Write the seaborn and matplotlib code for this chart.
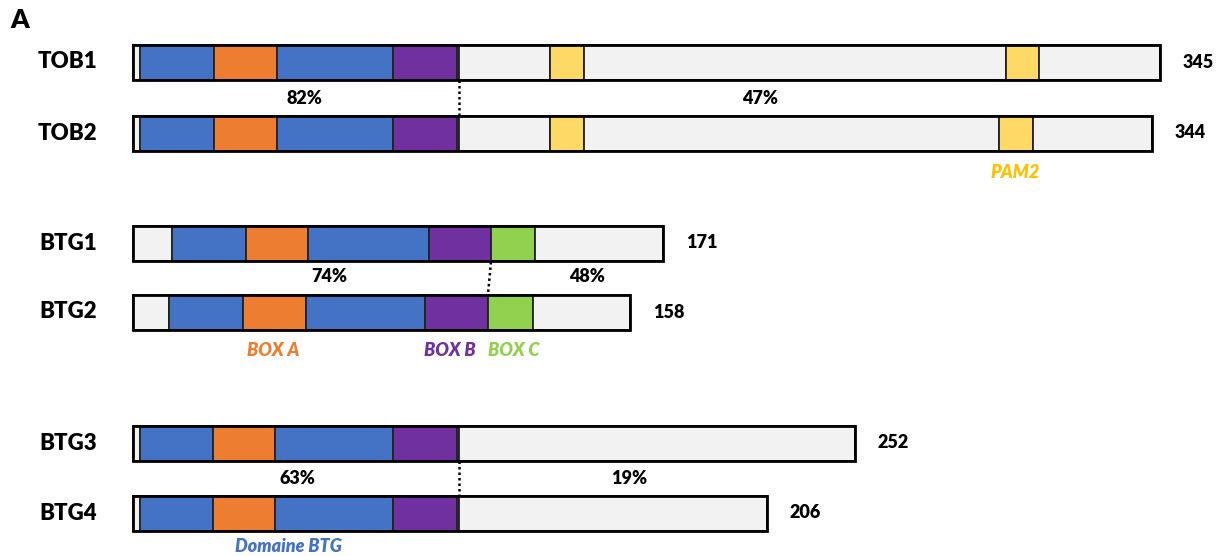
import matplotlib.pyplot as plt
import seaborn as sns
import pandas as pd

# proteins, row positions and total lengths (aa)
proteins = ["TOB1", "TOB2", "BTG1", "BTG2", "BTG3", "BTG4"]
row_y = [62, 133, 243, 312, 443, 513]
lengths = ["345", "344", "171", "158", "252", "206"]

# segment boundaries (drawing units) and domain type of each segment
bounds = {
    "TOB1": [133, 140, 214, 277, 393, 457, 459, 550, 584, 1006, 1039, 1160],
    "TOB2": [133, 140, 214, 277, 393, 457, 459, 550, 584, 999, 1033, 1152],
    "BTG1": [133, 172, 246, 308, 429, 491, 535, 663],
    "BTG2": [133, 169, 243, 306, 425, 488, 533, 630],
    "BTG3": [133, 140, 213, 275, 393, 457, 459, 855],
    "BTG4": [133, 140, 213, 275, 393, 457, 459, 767],
}
kinds = {
    "TOB1": ["none", "btg", "boxa", "btg", "boxb", "btg", "none", "pam2", "none", "pam2", "none"],
    "TOB2": ["none", "btg", "boxa", "btg", "boxb", "btg", "none", "pam2", "none", "pam2", "none"],
    "BTG1": ["none", "btg", "boxa", "btg", "boxb", "boxc", "none"],
    "BTG2": ["none", "btg", "boxa", "btg", "boxb", "boxc", "none"],
    "BTG3": ["none", "btg", "boxa", "btg", "boxb", "btg", "none"],
    "BTG4": ["none", "btg", "boxa", "btg", "boxb", "btg", "none"],
}
colors = {"none": "#F2F2F2", "btg": "#4472C4", "boxa": "#ED7D31",
          "boxb": "#7030A0", "boxc": "#92D050", "pam2": "#FFD966"}

# identity between pairs: (text, x, y)
identity = [("82%", 304, 99), ("47%", 760, 99),
            ("74%", 329, 276), ("48%", 587, 277),
            ("63%", 297, 478), ("19%", 629, 478)]
# dotted separators between pairs
separators = [((459, 459), (80, 115)), ((491, 488), (262, 294)), ((459, 459), (461, 495))]
# domain captions
captions = [("PAM2", 1015, 172, "#FFC000"), ("BOX A", 273, 351, "#ED7D31"),
            ("BOX B", 450, 351, "#7030A0"), ("BOX C", 514, 351, "#92D050"),
            ("Domaine BTG", 288, 546, "#4472C4")]

rows = []
for name, y in zip(proteins, row_y):
    b = bounds[name]
    for i, k in enumerate(kinds[name]):
        rows.append({"protein": name, "y": y, "left": b[i], "width": b[i + 1] - b[i], "kind": k})
df = pd.DataFrame(rows)

sns.set_theme(style="white")
plt.rcParams["font.family"] = ["Lato", "DejaVu Sans"]
plt.rcParams["text.color"] = "black"

fig = plt.figure(figsize=(12.24, 5.56), dpi=100)
ax = fig.add_axes([0, 0, 1, 1])
ax.set_xlim(0, 1224)
ax.set_ylim(556, 0)
ax.axis("off")

for _, r in df.iterrows():
    ax.barh(r["y"], r["width"], left=r["left"], height=35,
            color=colors[r["kind"]], edgecolor="#222222", linewidth=1.3, zorder=2)

# outer frame of each protein
for name, y in zip(proteins, row_y):
    b = bounds[name]
    ax.barh(y, b[-1] - b[0], left=b[0], height=35, fill=False,
            edgecolor="black", linewidth=2, zorder=3)

for name, y, L in zip(proteins, row_y, lengths):
    ax.text(97, y, name, ha="right", va="center", fontsize=16, fontweight="heavy")
    ax.text(bounds[name][-1] + 23, y, L, ha="left", va="center", fontsize=13, fontweight="heavy")

for t, x, y in identity:
    ax.text(x, y, t, ha="center", va="center", fontsize=13, fontweight="heavy")

for xs, ys in separators:
    ax.plot(xs, ys, color="black", linestyle=(0, (1, 1.2)), linewidth=1.8, zorder=1)

for t, x, y, c in captions:
    ax.text(x, y, t, ha="center", va="center", fontsize=13, fontweight="heavy",
            fontstyle="italic", color=c)

ax.text(10, 20, "A", ha="left", va="center", fontsize=19, fontweight="heavy")

fig.savefig("out.png", dpi=100, facecolor="w")
